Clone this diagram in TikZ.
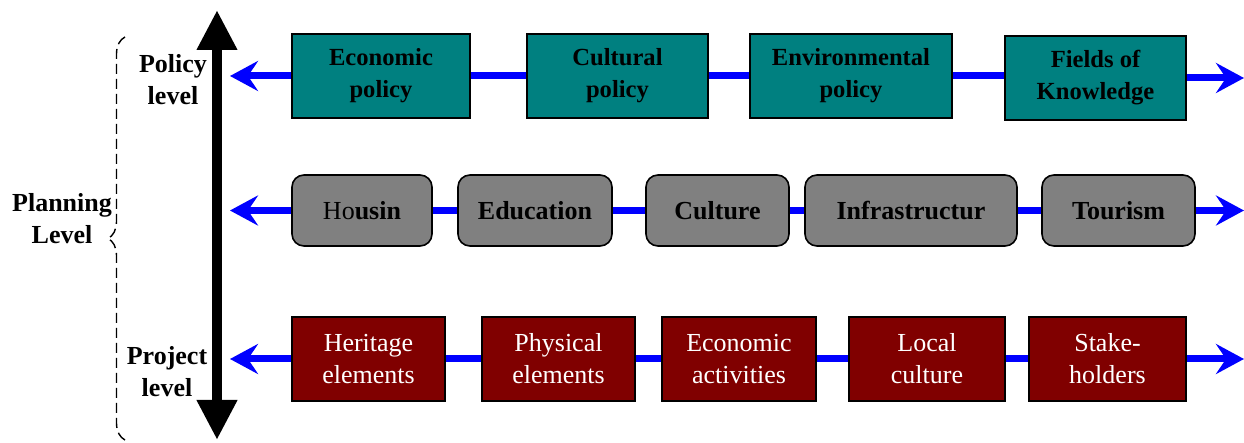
\documentclass[tikz,border=0pt]{standalone}
\usepackage{fontspec}
\setmainfont{Liberation Serif}
\usepackage{tikz}
\usetikzlibrary{arrows.meta,decorations.pathreplacing}
\newcommand{\px}[0] {0.5pt}

\definecolor{policyc}{HTML}{008080}
\definecolor{sectorc}{HTML}{808080}
\definecolor{projectc}{HTML}{800000}

\begin{document}
\begin{tikzpicture}[x=\px,y=-\px,
    every node/.style={align=center,font=\fontsize{13}{16}\selectfont},
    policybox/.style={draw=black,line width=0.8pt,fill=policyc,font=\fontsize{12.3}{16}\selectfont\bfseries,minimum height=84*\px},
    sectorbox/.style={draw=black,line width=0.8pt,fill=sectorc,rounded corners=6pt,font=\fontsize{13}{16}\selectfont\bfseries,minimum height=71*\px},
    projectbox/.style={draw=black,line width=0.8pt,fill=projectc,text=white,minimum height=84*\px},
    link/.style={draw=blue,line width=3.5pt},
    linkarrow/.style={link,-{Stealth[length=14pt,width=15pt,inset=5pt]}},
    levelname/.style={font=\fontsize{13}{16}\selectfont\bfseries}]
        \useasboundingbox (0,0) rectangle (1244,443);

        \node[policybox,minimum width=178*\px] (ep) at (381,76) {Economic\\policy};
        \node[policybox,minimum width=181*\px] (cp) at (617.5,76) {Cultural\\policy};
        \node[policybox,minimum width=202*\px] (envp) at (851,76) {Environmental\\policy};
        \node[policybox,minimum width=181*\px] (fk) at (1095.5,78) {Fields of\\Knowledge};

        \node[sectorbox,minimum width=140*\px] (ho) at (362,210.5) {\mdseries Ho\bfseries usin};
        \node[sectorbox,minimum width=154*\px] (ed) at (535,210.5) {Education};
        \node[sectorbox,minimum width=143*\px] (cu) at (717.5,210.5) {Culture};
        \node[sectorbox,minimum width=212*\px] (inf) at (911,210.5) {Infrastructur};
        \node[sectorbox,minimum width=153*\px] (to) at (1118.5,210.5) {Tourism};

        \node[projectbox,minimum width=153*\px] (he) at (368.5,359) {Heritage\\elements};
        \node[projectbox,minimum width=153*\px] (ph) at (558.5,359) {Physical\\elements};
        \node[projectbox,minimum width=154*\px] (ea) at (739,359) {Economic\\activities};
        \node[projectbox,minimum width=156*\px] (lc) at (927,359) {Local\\culture};
        \node[projectbox,minimum width=157*\px] (sh) at (1107.5,359) {Stake-\\holders};

        \coordinate (l1) at (230,76);
        \coordinate (r1) at (1244,78);
        \coordinate (l2) at (230,210.5);
        \coordinate (r2) at (1244,210.5);
        \coordinate (l3) at (230,359);
        \coordinate (r3) at (1244,359);

        %blue links
        \path[link] (ep) edge (cp) (cp) edge (envp) (envp) edge ([yshift=1pt]fk.west);
        \path[link] (ho) edge (ed) (ed) edge (cu) (cu) edge (inf) (inf) edge (to);
        \path[link] (he) edge (ph) (ph) edge (ea) (ea) edge (lc) (lc) edge (sh);
        \draw[linkarrow] (ep) -- (l1);
        \draw[linkarrow] (fk) -- (r1);
        \draw[linkarrow] (ho) -- (l2);
        \draw[linkarrow] (to) -- (r2);
        \draw[linkarrow] (he) -- (l3);
        \draw[linkarrow] (sh) -- (r3);

        %level axis
        \coordinate (top) at (217,10);
        \coordinate (bot) at (217,440);
        \draw[line width=5pt,{Triangle[length=20pt,width=19pt]}-{Triangle[length=20pt,width=19pt]}] (top) -- (bot);

        \node[levelname] (pol) at (173,80) {Policy\\level};
        \node[levelname] (pro) at (167,372) {Project\\level};
        \node[levelname] (pla) at (62,219) {Planning\\Level};

        \coordinate (bb) at (125,440);
        \coordinate (bt) at (125,37);
        \draw[line width=0.7pt,dash pattern=on 5pt off 2.5pt,decorate,decoration={brace,amplitude=8.5pt}] (bb) -- (bt);
\end{tikzpicture}
\end{document}
